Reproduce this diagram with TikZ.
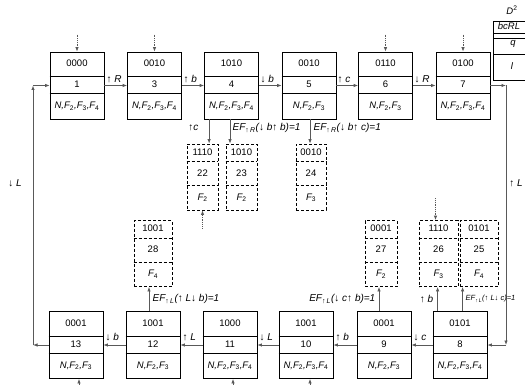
\documentclass[tikz,border=0pt]{standalone}
\usepackage{fontspec}
\setmainfont{Liberation Sans}
\usetikzlibrary{arrows.meta,calc}
\newcommand\Fx[1]{F\textsubscript{\upshape #1}}
\newcommand\uarr{{\upshape ↑}}
\newcommand\darr{{\upshape ↓}}
\tikzset{
  sbox/.style={draw, line width=0.8pt, minimum width=54pt, minimum height=67pt, inner sep=0pt},
  dbox/.style={draw, line width=0.8pt, dash pattern=on 3pt off 2pt, minimum height=66pt, inner sep=0pt},
  txt/.style={inner sep=0pt, font=\fontsize{9.5}{11}\selectfont, text height=7pt, text depth=1.5pt},
  itxt/.style={txt, font=\fontsize{9.5}{11}\selectfont\itshape},
  lab/.style={inner sep=0.5pt, font=\fontsize{10}{11}\selectfont\itshape},
  slab/.style={inner sep=0.5pt, font=\fontsize{7.5}{8}\selectfont\itshape},
  conn/.style={draw=gray!70!black, line width=0.8pt, -{Latex[length=4.5pt,width=3.5pt]}},
  dconn/.style={conn, densely dotted},
  divl/.style={line width=0.8pt},
  ddivl/.style={line width=0.8pt, dash pattern=on 3pt off 2pt},
}
% state box: name, x, y, top, mid, bottom
\newcommand\stbox[6]{%
  \node[sbox] (#1) at (#2,#3) {};
  \draw[divl] ($(#1.north west)+(0,25)$) -- ($(#1.north east)+(0,25)$);
  \draw[divl] ($(#1.north west)+(0,42)$) -- ($(#1.north east)+(0,42)$);
  \node[txt] (#1-a) at ($(#1.north)+(0,12.5)$) {#4};
  \node[txt] (#1-b) at ($(#1.north)+(0,33.5)$) {#5};
  \node[itxt] (#1-c) at ($(#1.north)+(0,54.5)$) {#6};
}
% dashed box: name, x, y, width, top, mid, bottom
\newcommand\dsbox[7]{%
  \node[dbox, minimum width=#4pt] (#1) at (#2,#3) {};
  \draw[ddivl] ($(#1.north west)+(0,18)$) -- ($(#1.north east)+(0,18)$);
  \draw[ddivl] ($(#1.north west)+(0,42)$) -- ($(#1.north east)+(0,42)$);
  \node[txt] (#1-a) at ($(#1.north)+(0,9)$) {#5};
  \node[txt] (#1-b) at ($(#1.north)+(0,30)$) {#6};
  \node[itxt] (#1-c) at ($(#1.north)+(0,54)$) {#7};
}
\begin{document}
\begin{tikzpicture}[x=1pt,y=-1pt]
\useasboundingbox (0,0) rectangle (525,385);
\clip (0,0) rectangle (525,385);
\fill[white] (0,0) rectangle (525,385);

% top row
\stbox{n1}{77}{85.5}{0000}{1}{N,\Fx2,\Fx3,\Fx4}
\stbox{n3}{154.5}{85.5}{0010}{3}{N,\Fx2,\Fx3,\Fx4}
\stbox{n4}{231.5}{85.5}{1010}{4}{N,\Fx2,\Fx3,\Fx4}
\stbox{n5}{309}{85.5}{0010}{5}{N,\Fx2,\Fx3}
\stbox{n6}{385.5}{85.5}{0110}{6}{N,\Fx2,\Fx3}
\stbox{n7}{463}{85.5}{0100}{7}{N,\Fx2,\Fx3,\Fx4}

% bottom row
\stbox{n13}{76}{345}{0001}{13}{N,\Fx2,\Fx3}
\stbox{n12}{153}{345}{1001}{12}{N,\Fx2,\Fx3}
\stbox{n11}{230}{345}{1000}{11}{N,\Fx2,\Fx3,\Fx4}
\stbox{n10}{306}{345}{1001}{10}{N,\Fx2,\Fx3,\Fx4}
\stbox{n9}{384}{345}{0001}{9}{N,\Fx2,\Fx3}
\stbox{n8}{460}{345}{0101}{8}{N,\Fx2,\Fx3,\Fx4}

% dashed boxes
\dsbox{n22}{202.5}{177}{31}{1110}{22}{\Fx2}
\dsbox{n23}{241.5}{177}{31}{1010}{23}{\Fx2}
\dsbox{n24}{311}{177}{30}{0010}{24}{\Fx3}
\dsbox{n28}{153}{253.5}{38}{1001}{28}{\Fx4}
\dsbox{n27}{381}{253.5}{32}{0001}{27}{\Fx2}
\dsbox{n26}{438.5}{253.5}{39}{1110}{26}{\Fx3}
\dsbox{n25}{479}{253.5}{38}{0101}{25}{\Fx4}

% legend
\draw[line width=0.8pt] (493,80) -- (493,21) -- (540,21);
\draw[line width=0.8pt] (493,80) -- (540,80);
\draw[line width=0.8pt] (493,33) -- (540,33);
\draw[line width=0.8pt] (493,38) -- (540,38);
\draw[line width=0.8pt] (493,54) -- (540,54);
\node[itxt] (lgD) at (512,12) {D\textsuperscript{\upshape 2}};
\node[itxt] (lgb) at (509,27) {bcRL};
\node[itxt] (lgq) at (513,43) {q};
\node[itxt] (lgl) at (512,67) {l};

% top row connectors
\draw[conn] (n1.east) -- (n3.west);
\draw[conn] (n3.east) -- (n4.west);
\draw[conn] (n4.east) -- (n5.west);
\draw[conn] (n5.east) -- (n6.west);
\draw[conn] (n6.east) -- (n7.west);
\node[lab, anchor=base west] (l13) at (106,82.5) {\uarr\ R};
\node[lab, anchor=base west] (l34) at (183,82.5) {\uarr\ b};
\node[lab, anchor=base west] (l45) at (260,82.5) {\darr\ b};
\node[lab, anchor=base west] (l56) at (337,82.5) {\uarr\ c};
\node[lab, anchor=base west] (l67) at (414,82.5) {\darr\ R};

% bottom row connectors
\draw[conn] (n8.west) -- (n9.east);
\draw[conn] (n9.west) -- (n10.east);
\draw[conn] (n10.west) -- (n11.east);
\draw[conn] (n11.west) -- (n12.east);
\draw[conn] (n12.west) -- (n13.east);
\node[lab, anchor=base west] (l1312) at (105,340) {\darr\ b};
\node[lab, anchor=base west] (l1211) at (182,340) {\uarr\ L};
\node[lab, anchor=base west] (l1110) at (259,340) {\darr\ L};
\node[lab, anchor=base west] (l109) at (335,340) {\uarr\ b};
\node[lab, anchor=base west] (l98) at (413,340) {\darr\ c};

% side loops
\coordinate (cl1) at (33,345);
\coordinate (cl2) at (33,85.5);
\draw[conn] (n13.west) -- (cl1);
\draw[conn] (cl1) -- (cl2);
\draw[conn] (cl2) -- (n1.west);
\node[lab] (lL1) at (15,183) {\darr\ L};
\coordinate (cr1) at (506,85.5);
\coordinate (cr2) at (506,345);
\draw[conn] (n7.east) -- (cr1);
\draw[conn] (cr1) -- (cr2);
\draw[conn] (cr2) -- (n8.east);
\node[lab] (lL2) at (516,183) {\uarr\ L};

% vertical connectors to dashed boxes
\path (n4.south west) ++(5,0) coordinate (s22);
\path (n22.north) ++(0,0) coordinate (t22);
\draw[conn] (s22) -- (s22 |- t22);
\path (n4.south) ++(-1.5,0) coordinate (s23);
\path (n23.north) coordinate (t23);
\draw[conn] (s23) -- (s23 |- t23);
\path (n5.south) ++(1,0) coordinate (s24);
\path (n24.north) coordinate (t24);
\draw[conn] (s24) -- (s24 |- t24);
\node[lab, anchor=east] (lc22) at (199,128) {\uarr c};
\node[lab, anchor=west] (lef23) at (232,128) {EF\textsubscript{\upshape ↑\,\itshape R}(\darr\ b\uarr\ b)=1};
\node[lab, anchor=west] (lef24) at (313,128) {EF\textsubscript{\upshape ↑\,\itshape R}(\darr\ b\uarr\ c)=1};

\path (n12.north) ++(-4,0) coordinate (s28);
\path (n28.south) coordinate (t28);
\draw[conn] (s28) -- (s28 |- t28);
\path (n9.north) ++(-5,0) coordinate (s27);
\path (n27.south) coordinate (t27);
\draw[conn] (s27) -- (s27 |- t27);
\path (n8.north west) ++(5,0) coordinate (s26);
\path (n26.south) coordinate (t26);
\draw[conn] (s26) -- (s26 |- t26);
\path (n8.north west) ++(30,0) coordinate (s25);
\path (n25.south) coordinate (t25);
\draw[conn] (s25) -- (s25 |- t25);
\node[lab, anchor=west] (lef28) at (152,299) {EF\textsubscript{\upshape ↑\,\itshape L}(\uarr\ L\darr\ b)=1};
\node[lab, anchor=east] (lef27) at (376,299) {EF\textsubscript{\upshape ↑\,\itshape L}(\darr\ c\uarr\ b)=1};
\node[lab, anchor=east] (lb26) at (434,299) {\uarr\ b};
\node[slab, anchor=west] (lef25) at (465,299) {EF\textsubscript{\upshape ↑\,\itshape L}(\uarr\ L\darr\ c)=1};

% dotted incoming arrows
\draw[dconn] ($(n1.north)+(0,-17)$) -- (n1.north);
\draw[dconn] ($(n3.north)+(0,-17)$) -- (n3.north);
\draw[dconn] ($(n6.north)+(0,-17)$) -- (n6.north);
\draw[dconn] ($(n7.north)+(0,-17)$) -- (n7.north);
\draw[dconn] ($(n26.north)+(-3,-22)$) -- ($(n26.north)+(-3,0)$);
\draw[dconn] ($(n22.south)+(0,18)$) -- (n22.south);

% incoming arrows from below
\draw[conn] ($(n13.south)+(3,10)$) -- ($(n13.south)+(3,0)$);
\draw[conn] ($(n11.south)+(3,10)$) -- ($(n11.south)+(3,0)$);
\draw[conn] ($(n10.south)+(4,10)$) -- ($(n10.south)+(4,0)$);
\end{tikzpicture}
\end{document}
